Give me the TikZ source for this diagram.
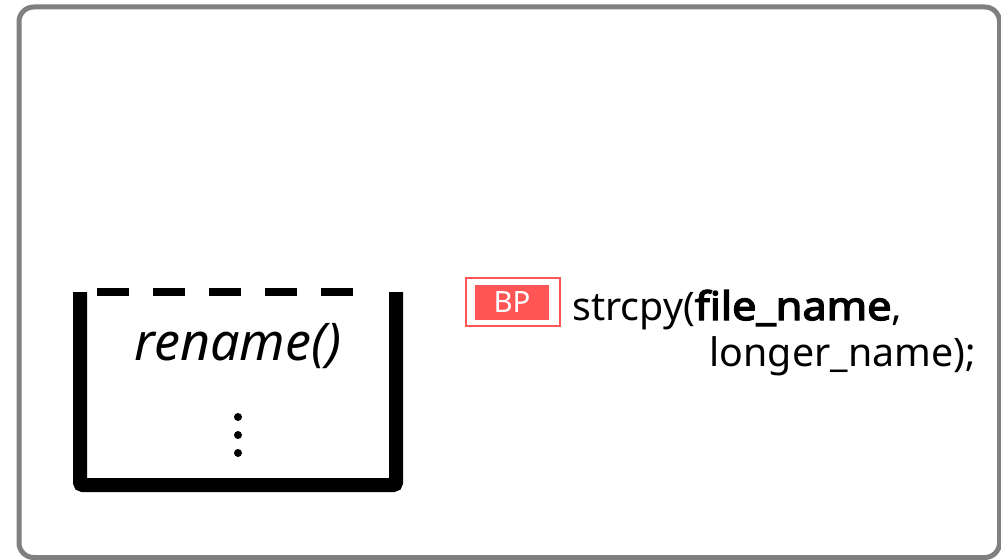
\documentclass[tikz,border=0pt]{standalone}
\usepackage{fontspec}
\setmainfont{Noto Sans}
\newfontfamily\codebold{Noto Sans}[FakeBold=3.5,FakeStretch=1.1]
\usepackage{xcolor}

\definecolor{framegray}{RGB}{128,128,128}
\definecolor{bpred}{RGB}{255,85,85}

\tikzset{
  dot/.style={circle,fill=black,inner sep=0pt,minimum size=6pt},
  codetext/.style={font=\fontsize{29.5}{34}\selectfont,inner sep=0pt},
}

\begin{document}
\begin{tikzpicture}[x=0.75pt,y=-0.75pt]
\useasboundingbox (0,0) rectangle (1001,560);
% outer frame
\draw[framegray,line width=3.75pt,rounded corners=11pt] (19,7) rectangle (999.5,557.5);
% stack frame of rename()
\draw[line width=10.5pt,rounded corners=2pt] (80,292) -- (80,485) -- (396,485) -- (396,292);
\draw[line width=6pt,dash pattern=on 24pt off 18pt] (97,292) -- (360,292);
\node[font=\fontsize{39}{44}\selectfont\itshape,inner sep=0pt] (func) at (238,346) {rename()};
\node[dot] (d1) at (238,417) {};
\node[dot] (d2) at (238,435) {};
\node[dot] (d3) at (238,453) {};
% breakpoint marker
\node[draw=bpred,line width=1.5pt,minimum width=70pt,minimum height=36pt,inner sep=0pt] (bpbox) at (513,301.5) {};
\node[fill=bpred,text=white,minimum width=55.5pt,minimum height=26.25pt,inner sep=0pt,font=\fontsize{22}{24}\selectfont] (bp) at (512,302.5) {BP};
% code line
\node[codetext,anchor=base west] (call) at (572,320) {strcpy({\codebold file\_name},};
\node[codetext,anchor=base east] (args) at (976,366) {longer\_name);};
\end{tikzpicture}
\end{document}
